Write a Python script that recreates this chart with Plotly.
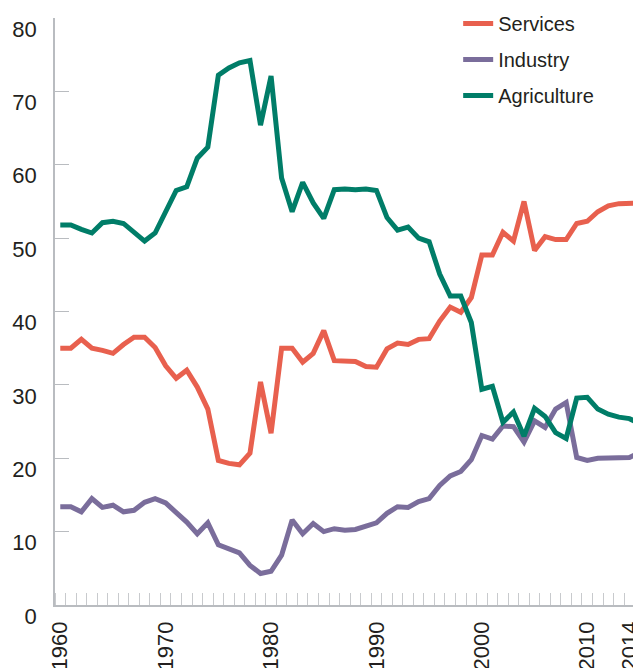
import plotly.graph_objects as go

years = list(range(1960, 2016))

services = [35.0, 35.0, 36.2, 35.0, 34.7, 34.3, 35.5, 36.5, 36.5, 35.1,
            32.6, 30.9, 32.0, 29.7, 26.7, 19.7, 19.3, 19.1, 20.7, 30.4,
            23.4, 35.0, 35.0, 33.1, 34.3, 37.4, 33.3, 33.3, 33.2, 32.5,
            32.4, 34.9, 35.7, 35.5, 36.2, 36.3, 38.7, 40.6, 39.9, 41.9,
            47.7, 47.7, 50.8, 49.6, 55.0, 48.3, 50.2, 49.8, 49.8, 52.0,
            52.3, 53.6, 54.4, 54.7, 54.8, 54.8]

industry = [13.4, 13.4, 12.7, 14.5, 13.3, 13.6, 12.7, 12.9, 14.0, 14.5,
            13.9, 12.7, 11.3, 9.7, 11.2, 8.2, 7.7, 7.1, 5.4, 4.3,
            4.6, 6.8, 11.6, 9.7, 11.1, 10.0, 10.4, 10.2, 10.3, 10.8,
            11.2, 12.5, 13.4, 13.3, 14.1, 14.5, 16.3, 17.6, 18.2, 19.8,
            23.1, 22.6, 24.4, 24.3, 22.2, 25.1, 24.2, 26.7, 27.6, 20.1,
            19.7, 20.0, 20.0, 20.1, 20.1, 20.8]

agriculture = [51.8, 51.8, 51.2, 50.7, 52.1, 52.3, 52.0, 50.9, 49.6, 50.7,
               53.5, 56.5, 57.0, 60.9, 62.4, 72.2, 73.2, 73.9, 74.2, 65.4,
               72.1, 58.2, 53.6, 57.6, 54.8, 52.7, 56.6, 56.7, 56.6, 56.7,
               56.5, 52.8, 51.1, 51.5, 50.0, 49.5, 45.1, 42.1, 42.1, 38.5,
               29.4, 29.8, 24.9, 26.3, 23.0, 26.8, 25.7, 23.5, 22.7, 28.2,
               28.3, 26.7, 26.0, 25.6, 25.4, 24.7]

series = [("Services", services, "#E8604E"),
          ("Industry", industry, "#7A6D9B"),
          ("Agriculture", agriculture, "#007D68")]

x_label_vals = [1960, 1970, 1980, 1990, 2000, 2010, 2014]
x_label_text = ["1960", "1970", "1980", "1990", "2000", "2010", "2014"]
y_ticks = [0, 10, 20, 30, 40, 50, 60, 70, 80]

FONT = "Liberation Sans, Arial, sans-serif"

fig = go.Figure()
for name, vals, color in series:
    fig.add_trace(go.Scatter(x=years, y=vals, name=name, mode="lines",
                             legendgroup=name,
                             line=dict(color=color, width=5, shape="linear")))

# page body has an 8px default margin, so the figure is sized to fill the rest
fig.update_layout(
    width=633, height=660,
    margin=dict(l=47, r=0, t=10, b=63, autoexpand=False),
    paper_bgcolor="white", plot_bgcolor="white",
    font=dict(family=FONT, size=22, color="#231F20"),
    showlegend=True,
    legend=dict(x=0.688, y=1.024, xanchor="left", yanchor="top",
                font=dict(family=FONT, size=20, color="#231F20"),
                bgcolor="rgba(0,0,0,0)", tracegroupgap=7),
)

fig.update_xaxes(
    range=[1959.5, 2015.1], automargin=False,
    tickmode="array", tickvals=x_label_vals, ticktext=x_label_text,
    tickangle=-90, ticks="", ticklabelstandoff=6, ticklabeloverflow="allow",
    tickfont=dict(family=FONT, size=22, color="#231F20"),
    showgrid=False, zeroline=False,
    showline=True, linecolor="#B9BCC0", linewidth=1.5,
    minor=dict(ticks="inside", ticklen=12, tickcolor="#C8CACD", tickwidth=1.3,
               tickmode="linear", tick0=1959.5, dtick=1, showgrid=False),
)

fig.update_yaxes(
    range=[0, 80], automargin=False,
    tickmode="array", tickvals=y_ticks,
    ticks="inside", ticklen=14, tickcolor="#B9BCC0", tickwidth=1.3,
    ticklabelshift=11, ticklabelstandoff=12, ticklabeloverflow="allow",
    tickfont=dict(family=FONT, size=22, color="#231F20"),
    showgrid=False, zeroline=False,
    showline=True, linecolor="#B9BCC0", linewidth=1.5,
)

fig.write_html("out.html")
